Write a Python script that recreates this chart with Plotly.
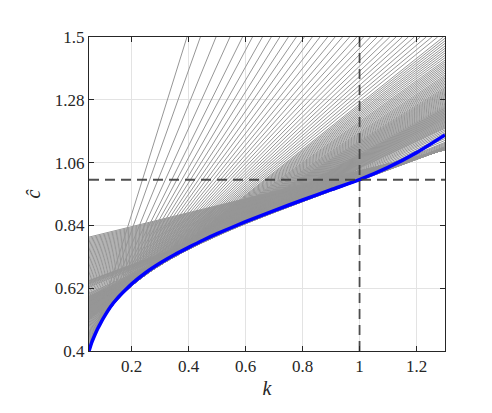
import plotly.graph_objects as go

# ---- data ----
# blue curve
blue_k = [0.05, 0.06, 0.07, 0.08, 0.09, 0.10, 0.125, 0.15, 0.175, 0.20, 0.25, 0.30,
          0.35, 0.40, 0.45, 0.50, 0.60, 0.70, 0.80, 0.90, 1.00, 1.10, 1.20, 1.30]
blue_c = [0.400, 0.431, 0.455, 0.477, 0.496, 0.514, 0.554, 0.585, 0.611, 0.635, 0.675, 0.708,
          0.737, 0.763, 0.788, 0.811, 0.853, 0.892, 0.929, 0.965, 1.000, 1.043, 1.095, 1.157]

# grey lines leaving through the top edge: value at k=0.05 and k where they reach 1.5
gray_top_left = [0.4000, 0.4014, 0.4052, 0.4099, 0.4153, 0.4197, 0.4242, 0.4283, 0.4324,
                 0.4365, 0.4403, 0.4441, 0.4480, 0.4517, 0.4555, 0.4591, 0.4626, 0.4660,
                 0.4694, 0.4727, 0.4759, 0.4790, 0.4821, 0.4850, 0.4879, 0.4908, 0.4935,
                 0.4963, 0.4990, 0.5017, 0.5043, 0.5068, 0.5093]
gray_top_exit = [0.394, 0.441, 0.496, 0.545, 0.589, 0.624, 0.659, 0.690, 0.720, 0.750,
                 0.778, 0.806, 0.834, 0.861, 0.888, 0.914, 0.940, 0.965, 0.990, 1.014,
                 1.038, 1.061, 1.084, 1.106, 1.128, 1.150, 1.171, 1.192, 1.213, 1.234,
                 1.254, 1.274, 1.294]

# grey lines leaving through the right edge: value at k=0.05 and at k=1.3
gray_side_left = [0.5107, 0.5122, 0.5137, 0.5152, 0.5166, 0.5181, 0.5196, 0.5211, 0.5226,
                  0.5240, 0.5254, 0.5267, 0.5281, 0.5294, 0.5308, 0.5321, 0.5335, 0.5348,
                  0.5361, 0.5373, 0.5385, 0.5397, 0.5410, 0.5422, 0.5435, 0.5447, 0.5459,
                  0.5470, 0.5481, 0.5492, 0.5503, 0.5514, 0.5525, 0.5536, 0.5547, 0.5557,
                  0.5568, 0.5579, 0.5590, 0.5601, 0.5612, 0.5623, 0.5634, 0.5644, 0.5654,
                  0.5663, 0.5672, 0.5681, 0.5691, 0.5700, 0.5710, 0.5719, 0.5728, 0.5737,
                  0.5747, 0.5756, 0.5765, 0.5774, 0.5784, 0.5793, 0.5806, 0.5819, 0.5833,
                  0.5846, 0.5859, 0.5872, 0.5886, 0.5899, 0.5912, 0.5925, 0.5954, 0.5982,
                  0.6011, 0.6039, 0.6085, 0.6131, 0.6177, 0.6222,
                  0.6252, 0.6281, 0.6311, 0.6340, 0.6360, 0.6380, 0.6400, 0.6420, 0.6441,
                  0.6462, 0.6466, 0.6469,
                  0.651, 0.655, 0.659, 0.663, 0.667, 0.671, 0.675, 0.679, 0.683, 0.687,
                  0.691, 0.695, 0.699, 0.703, 0.707, 0.711, 0.715, 0.719, 0.723, 0.727,
                  0.731, 0.735, 0.739, 0.743, 0.747, 0.751, 0.755, 0.759, 0.763, 0.767,
                  0.771, 0.775, 0.779, 0.783, 0.787, 0.791, 0.795, 0.799]
gray_side_right = [1.4957, 1.4866, 1.4776, 1.4685, 1.4603, 1.4520, 1.4438, 1.4355, 1.4273,
                   1.4190, 1.4125, 1.4059, 1.3994, 1.3928, 1.3863, 1.3798, 1.3733, 1.3667,
                   1.3612, 1.3557, 1.3504, 1.3451, 1.3399, 1.3346, 1.3293, 1.3240, 1.3197,
                   1.3153, 1.3114, 1.3075, 1.3036, 1.2996, 1.2957, 1.2918, 1.2879, 1.2840,
                   1.2801, 1.2762, 1.2723, 1.2683, 1.2644, 1.2605, 1.2570, 1.2535, 1.2508,
                   1.2481, 1.2455, 1.2428, 1.2401, 1.2374, 1.2348, 1.2321, 1.2294, 1.2267,
                   1.2240, 1.2213, 1.2187, 1.2160, 1.2133, 1.2106, 1.2076, 1.2045, 1.2015,
                   1.1984, 1.1953, 1.1922, 1.1892, 1.1861, 1.1831, 1.1800, 1.1745, 1.1689,
                   1.1633, 1.1577, 1.1510, 1.1444, 1.1377, 1.1310,
                   1.1276, 1.1242, 1.1207, 1.1173, 1.1157, 1.1141, 1.1125, 1.1108, 1.1097,
                   1.1086, 1.1084, 1.1082,
                   1.1081, 1.1080, 1.1079, 1.1078, 1.1077, 1.1076, 1.1075, 1.1074, 1.1073,
                   1.1072, 1.1071, 1.1070, 1.1069, 1.1068, 1.1067, 1.1066, 1.1065, 1.1064,
                   1.1063, 1.1062, 1.1061, 1.1060, 1.1059, 1.1058, 1.1057, 1.1056, 1.1055,
                   1.1054, 1.1053, 1.1052, 1.1051, 1.1050, 1.1050, 1.1049, 1.1049, 1.1048,
                   1.1048, 1.1047]

k_min, k_max = 0.05, 1.3
c_min, c_max = 0.4, 1.5
ref_k, ref_c = 1.0, 1.0

x_ticks = [0.2, 0.4, 0.6, 0.8, 1.0, 1.2]
x_tick_text = ["0.2", "0.4", "0.6", "0.8", "1", "1.2"]
y_ticks = [0.4, 0.62, 0.84, 1.06, 1.28, 1.5]
y_tick_text = ["0.4", "0.62", "0.84", "1.06", "1.28", "1.5"]

# ---- build grey line trace ----
gx, gy = [], []
for a, kt in zip(gray_top_left, gray_top_exit):
    gx += [k_min, kt, None]
    gy += [a, c_max, None]
for a, r in zip(gray_side_left, gray_side_right):
    gx += [k_min, k_max, None]
    gy += [a, r, None]

fig = go.Figure()
fig.add_trace(go.Scatter(x=gx, y=gy, mode="lines",
                         line=dict(color="rgb(150,150,150)", width=1.0),
                         hoverinfo="skip", showlegend=False))
fig.add_trace(go.Scatter(x=blue_k, y=blue_c, mode="lines",
                         line=dict(color="rgb(0,0,255)", width=3.5, shape="spline", smoothing=0.6),
                         showlegend=False))
dash_col = "rgba(60,60,60,0.9)"
fig.add_trace(go.Scatter(x=[k_min, k_max], y=[ref_c, ref_c], mode="lines",
                         line=dict(color=dash_col, width=1.8, dash="10px,6px"),
                         showlegend=False))
fig.add_trace(go.Scatter(x=[ref_k, ref_k], y=[c_min, c_max], mode="lines",
                         line=dict(color=dash_col, width=1.8, dash="10px,6px"),
                         showlegend=False))

axis_col = "#262626"
font_fam = "Liberation Serif, Times New Roman, serif"
fig.update_layout(
    width=492, height=413,
    margin=dict(l=81, r=55, t=29, b=70),
    paper_bgcolor="white", plot_bgcolor="white",
    font=dict(family=font_fam, size=17, color=axis_col),
    xaxis=dict(range=[k_min, k_max], tickvals=x_ticks, ticktext=x_tick_text,
               showgrid=True, gridcolor="#e3e3e3", gridwidth=1,
               showline=True, linecolor=axis_col, linewidth=1, mirror="ticks",
               ticks="inside", ticklen=5, tickcolor=axis_col, zeroline=False,
               tickfont=dict(size=17),
               title=dict(text="<i>k</i>", font=dict(size=20), standoff=5)),
    yaxis=dict(range=[c_min, c_max], tickvals=y_ticks, ticktext=y_tick_text,
               showgrid=True, gridcolor="#e3e3e3", gridwidth=1,
               showline=True, linecolor=axis_col, linewidth=1, mirror="ticks",
               ticks="inside", ticklen=5, tickcolor=axis_col, zeroline=False,
               tickfont=dict(size=17),
               title=dict(text="<i>ĉ</i>", font=dict(size=20), standoff=8)),
)
fig.write_html("out.html")
